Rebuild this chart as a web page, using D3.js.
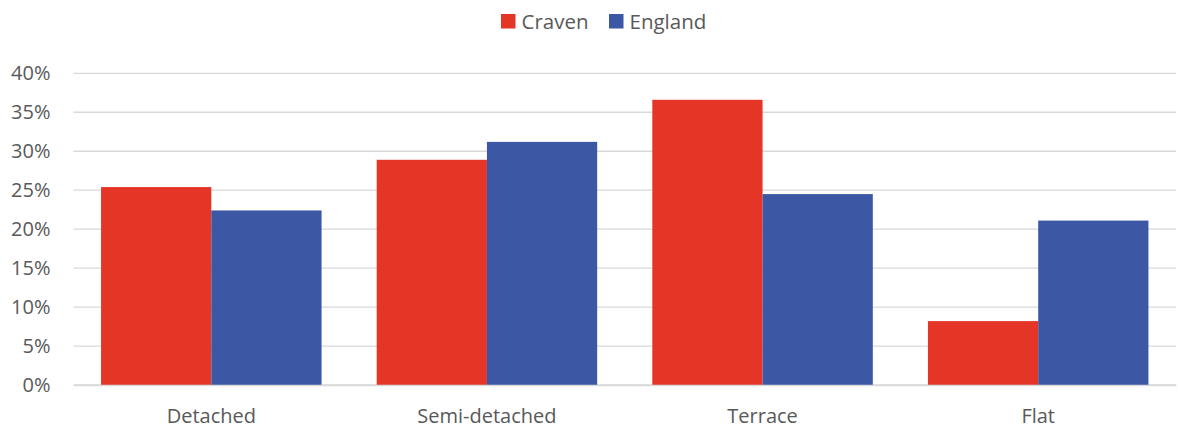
<!DOCTYPE html>
<html><head><meta charset="utf-8">
<script src="https://cdn.jsdelivr.net/npm/d3@7"></script>
<style>body{margin:0;background:#fff}svg{display:block}text{font-family:"Open Sans",sans-serif;fill:#595959}</style>
</head><body><svg id="c" width="1178" height="430"></svg>
<script>
const categories = ["Detached","Semi-detached","Terrace","Flat"];
const seriesNames = ["Craven","England"];
const craven = [25.4, 28.9, 36.6, 8.2];
const england = [22.4, 31.2, 24.5, 21.1];
const yTicks = [0,5,10,15,20,25,30,35,40];
const colors = ["#E43526","#3C57A4"];

const svg = d3.select("#c");
const m = {l:73.5, r:1176, t:73.3, b:385};
const x = d3.scaleBand().domain(categories).range([m.l, m.r]).paddingInner(0.2).paddingOuter(0.1);
const xs = d3.scaleBand().domain(seriesNames).range([0, x.bandwidth()]);
const y = d3.scaleLinear().domain([0,40]).range([m.b, m.t]);

svg.append("g").selectAll("line").data(yTicks).join("line")
  .attr("x1", m.l).attr("x2", m.r).attr("y1", d=>y(d)).attr("y2", d=>y(d))
  .attr("stroke","#d9d9d9").attr("stroke-width",1.3);

const yAxis = d3.axisLeft(y).tickValues(yTicks).tickFormat(d=>d+"%").tickSize(0).tickPadding(23);
const ga = svg.append("g").attr("transform",`translate(${m.l},0)`).call(yAxis);
ga.select(".domain").remove();
ga.selectAll("text").attr("font-size",20).attr("font-family","'Open Sans',sans-serif").attr("fill","#595959");

const data = [craven, england];
data.forEach((vals, si) => {
  svg.append("g").selectAll("rect").data(vals).join("rect")
    .attr("x",(d,i)=>x(categories[i])+xs(seriesNames[si]))
    .attr("width", xs.bandwidth())
    .attr("y", d=>y(d)).attr("height", d=>y(0)-y(d))
    .attr("fill", colors[si]);
});

const xAxis = d3.axisBottom(x).tickSize(0).tickPadding(24);
const gx = svg.append("g").attr("transform",`translate(0,${m.b})`).call(xAxis);
gx.select(".domain").attr("stroke","#d9d9d9").attr("stroke-width",1.3);
gx.selectAll("text").attr("font-size",20).attr("font-family","'Open Sans',sans-serif").attr("fill","#595959");

const legX = [501, 609];
const lg = svg.append("g");
seriesNames.forEach((s,i)=>{
  lg.append("rect").attr("x",legX[i]).attr("y",14).attr("width",14.5).attr("height",14.5).attr("fill",colors[i]);
  lg.append("text").attr("x",legX[i]+20.5).attr("y",28.5).attr("font-size",20.5).text(s);
});
</script></body></html>
